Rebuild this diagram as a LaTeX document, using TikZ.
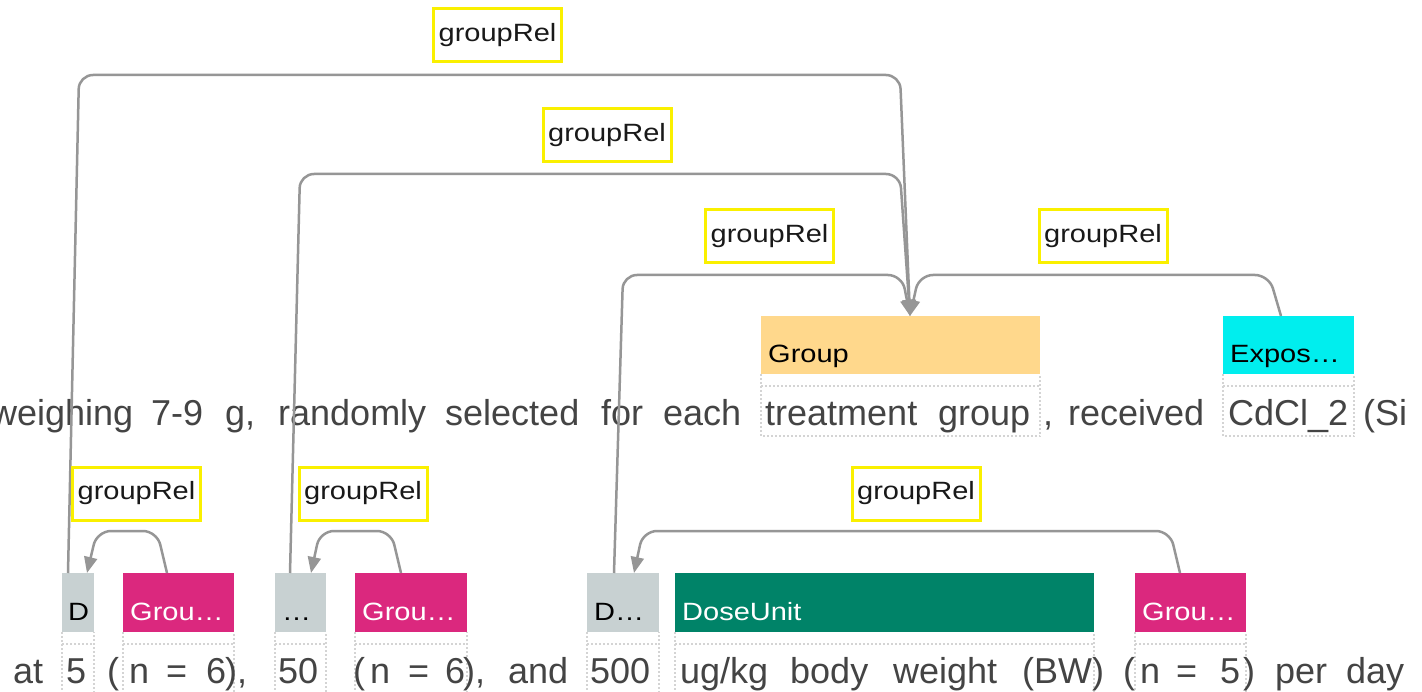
\documentclass[tikz,border=0pt]{standalone}
\usepackage{fontspec}
\setmainfont{Liberation Sans}
\newfontfamily\lblfont[FakeStretch=1.16]{Liberation Sans}
\usetikzlibrary{arrows.meta,calc}
\definecolor{arcgrey}{RGB}{150,150,150}
\definecolor{dotgrey}{RGB}{212,212,212}
\definecolor{relyellow}{RGB}{250,240,0}
\definecolor{maintext}{RGB}{68,68,68}
\definecolor{grpfill}{RGB}{255,216,140}
\definecolor{expfill}{RGB}{0,238,238}
\definecolor{dosefill}{RGB}{200,209,210}
\definecolor{gnfill}{RGB}{219,40,126}
\definecolor{dufill}{RGB}{0,131,104}
\tikzset{
  ann/.style={rectangle, inner xsep=7pt, inner ysep=0pt, anchor=north west,
    text height=35pt, text depth=0pt, align=left,
    font=\lblfont\fontsize{25}{30}\selectfont},
  row1/.style={ann, minimum height=58pt},
  row2/.style={ann, minimum height=59pt},
  relbox/.style={draw=relyellow, line width=3pt, fill=white, minimum width=128pt,
    minimum height=53pt, inner sep=0pt, text=black!90,
    font=\lblfont\fontsize{25}{30}\selectfont},
  arc/.style={draw=arcgrey, line width=2.5pt, rounded corners=14pt},
  arrowed/.style={arc, -{Triangle[length=16pt,width=13pt]}},
  dotl/.style={draw=dotgrey, line width=2pt, dash pattern=on 2pt off 2pt},
  txt/.style={anchor=base west, inner sep=0pt, text=maintext,
    font=\fontsize{36}{40}\selectfont}
}
\begin{document}
\begin{tikzpicture}[x=1pt,y=-1pt]
\useasboundingbox (0,0) rectangle (1422,692);
\clip (0,0) rectangle (1422,692);
\fill[white] (0,0) rectangle (1422,692);

% annotation boxes, row 1
\node[row1, fill=grpfill, text width=265pt, text=black] (grp) at (761,316) {Group};
\node[row1, fill=expfill, text width=117pt, text=black] (exp) at (1223,316) {Expos…};

% annotation boxes, row 2
\node[row2, fill=dosefill, inner xsep=6pt, text width=20pt, text=black] (d5) at (62,573) {D};
\node[row2, fill=gnfill, text width=97pt, text=white] (g1) at (123,573) {Grou…};
\node[row2, fill=dosefill, text width=37pt, text=black] (d50) at (275,573) {…};
\node[row2, fill=gnfill, text width=98pt, text=white] (g2) at (355,573) {Grou…};
\node[row2, fill=dosefill, text width=58pt, text=black] (d500) at (587,573) {D…};
\node[row2, fill=dufill, text width=405pt, text=white] (du) at (675,573) {DoseUnit};
\node[row2, fill=gnfill, text width=97pt, text=white] (g3) at (1135,573) {Grou…};

% dotted span frames
\foreach \n/\h in {grp/62,exp/62,d5/62,g1/62,d50/62,g2/62,d500/62,du/62,g3/62} {
  \draw[dotl] (\n.south west) -- ($(\n.south west)+(0,\h)$) -- ($(\n.south east)+(0,\h)$) -- (\n.south east);
  \draw[dotl] ($(\n.south west)+(0,12)$) -- ($(\n.south east)+(0,12)$);
}

% text line 1
\node[txt] (a1) at (-9,425) {weighing};
\node[txt] (a2) at (151,425) {7-9};
\node[txt] (a3) at (225,425) {g,};
\node[txt] (a4) at (278,425) {randomly};
\node[txt] (a5) at (445,425) {selected};
\node[txt] (a6) at (601,425) {for};
\node[txt] (a7) at (663,425) {each};
\node[txt] (a8) at (765,425) {treatment};
\node[txt] (a9) at (938,425) {group};
\node[txt] (a10) at (1043,425) {,};
\node[txt] (a11) at (1068,425) {received};
\node[txt] (a12) at (1228,425) {CdCl\_2};
\node[txt] (a13) at (1363,425) {(Si};

% text line 2
\node[txt] (b1) at (13,683) {at};
\node[txt] (b2) at (66,683) {5};
\node[txt] (b3) at (107,683) {(};
\node[txt] (b4) at (129,683) {n};
\node[txt] (b5) at (166,683) {=};
\node[txt] (b6) at (206,683) {6};
\node[txt] (b7) at (225,683) {),};
\node[txt] (b8) at (278,683) {50};
\node[txt] (b9) at (353,683) {(};
\node[txt] (b10) at (370,683) {n};
\node[txt] (b11) at (408,683) {=};
\node[txt] (b12) at (445,683) {6};
\node[txt] (b13) at (463,683) {),};
\node[txt] (b14) at (508,683) {and};
\node[txt] (b15) at (590,683) {500};
\node[txt] (b16) at (680,683) {ug/kg};
\node[txt] (b17) at (790,683) {body};
\node[txt] (b18) at (893,683) {weight};
\node[txt] (b19) at (1022,683) {(BW)};
\node[txt] (b20) at (1123,683) {(};
\node[txt] (b21) at (1140,683) {n};
\node[txt] (b22) at (1176,683) {=};
\node[txt] (b23) at (1220,683) {5};
\node[txt] (b24) at (1243,683) {)};
\node[txt] (b25) at (1275,683) {per};
\node[txt] (b26) at (1346,683) {day};

% arcs
\draw[arrowed] ($(d5.north west)+(6,0)$) -- (79,75) -- (900,75) -- ($(grp.north west)+(149,0)$);
\draw[arrowed] ($(d50.north west)+(15,0)$) -- (300,174) -- (900,174) -- ($(grp.north west)+(149,0)$);
\draw[arrowed] ($(d500.north west)+(27,0)$) -- (623,275) -- (902,275) -- ($(grp.north west)+(149,0)$);
\draw[arrowed] ($(exp.north west)+(58,0)$) -- (1269,275) -- (919,275) -- ($(grp.north west)+(149,0)$);
\draw[arrowed] ($(g1.north west)+(44,0)$) -- (157,531) -- (97,531) -- ($(d5.north west)+(25,0)$);
\draw[arrowed] ($(g2.north west)+(46,0)$) -- (391,531) -- (320,531) -- ($(d50.north west)+(36,0)$);
\draw[arrowed] ($(g3.north west)+(45,0)$) -- (1170,531) -- (643,531) -- ($(d500.north west)+(47,0)$);

% relation labels
\node[relbox] (r1) at (497.5,35) {groupRel};
\node[relbox] (r2) at (607,135.5) {groupRel};
\node[relbox] (r3) at (769.5,236) {groupRel};
\node[relbox] (r4) at (1103,236) {groupRel};
\node[relbox] (r5) at (136.5,493.5) {groupRel};
\node[relbox] (r6) at (363,493.5) {groupRel};
\node[relbox] (r7) at (916,493.5) {groupRel};
\end{tikzpicture}
\end{document}
